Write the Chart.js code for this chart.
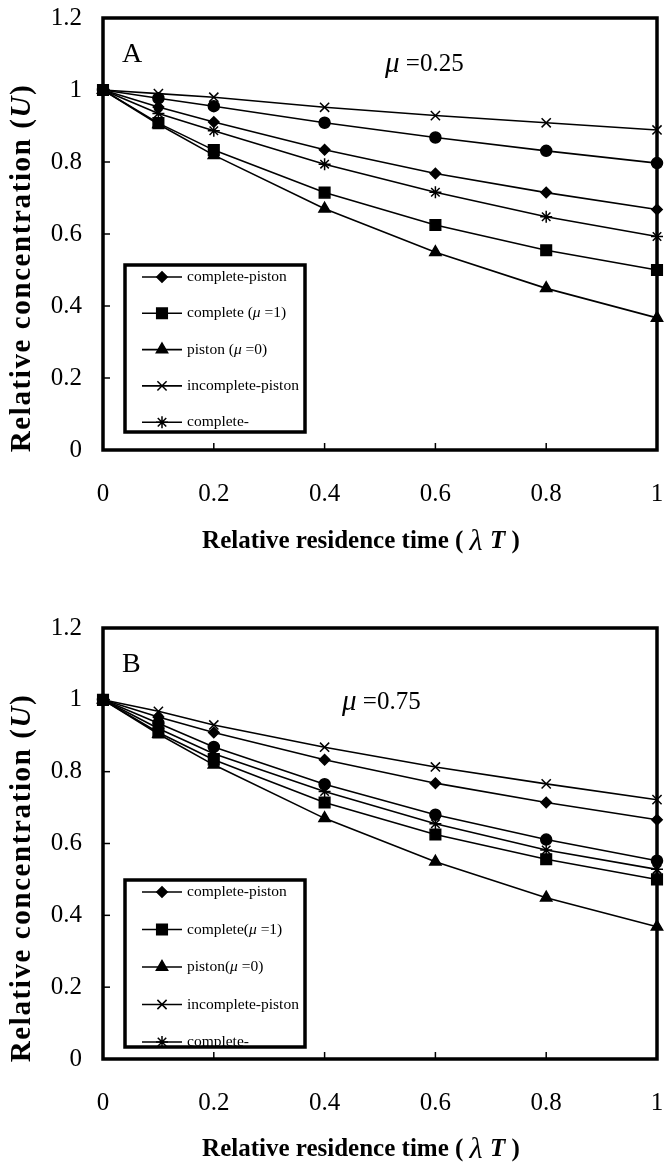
<!DOCTYPE html>
<html><head><meta charset="utf-8">
<script src="https://cdn.jsdelivr.net/npm/chart.js@4.4.0/dist/chart.umd.min.js"></script>
<style>
html,body{margin:0;padding:0;background:#fff;}
#wrap{position:relative;width:666px;height:1167px;overflow:hidden;}
canvas{position:absolute;left:0;}
</style></head><body>
<div id="wrap">
<canvas id="cA" width="666" height="610" style="top:0"></canvas>
<canvas id="cB" width="666" height="557" style="top:610px"></canvas>
</div>
<script>
// ---------- data ----------
const xValues = [0, 0.1, 0.2, 0.4, 0.6, 0.8, 1];
const xTicks = [0, 0.2, 0.4, 0.6, 0.8, 1];
const yTicks = [0, 0.2, 0.4, 0.6, 0.8, 1, 1.2];

const labelsA = ['complete-piston', 'complete (μ =1)', 'piston (μ =0)', 'incomplete-piston', 'complete-', 'incomplete-'];
const labelsB = ['complete-piston', 'complete(μ =1)', 'piston(μ =0)', 'incomplete-piston', 'complete-', 'incomplete-'];

// panel A (mu = 0.25)
const aCompletePiston   = [1, 0.953, 0.911, 0.834, 0.768, 0.715, 0.668];
const aComplete         = [1, 0.908, 0.833, 0.715, 0.625, 0.555, 0.500];
const aPiston           = [1, 0.905, 0.819, 0.670, 0.549, 0.449, 0.367];
const aIncompletePiston = [1, 0.990, 0.980, 0.952, 0.929, 0.909, 0.889];
const aCompleteInc      = [1, 0.935, 0.887, 0.794, 0.716, 0.648, 0.593];
const aIncomplete       = [1, 0.977, 0.955, 0.909, 0.868, 0.831, 0.797];

// panel B (mu = 0.75)
const bCompletePiston   = [1, 0.952, 0.909, 0.833, 0.768, 0.714, 0.666];
const bComplete         = [1, 0.909, 0.833, 0.714, 0.625, 0.556, 0.500];
const bPiston           = [1, 0.905, 0.819, 0.670, 0.549, 0.449, 0.368];
const bIncompletePiston = [1, 0.968, 0.930, 0.868, 0.813, 0.766, 0.722];
const bCompleteInc      = [1, 0.920, 0.850, 0.745, 0.655, 0.582, 0.528];
const bIncomplete       = [1, 0.935, 0.869, 0.765, 0.680, 0.611, 0.552];

// ---------- styles ----------
const SERIF = '"Liberation Serif", "Times New Roman", serif';
const pointStyles = ['rectRot', 'rect', 'triangle', 'crossRot', 'star', 'circle'];
const pointRadii  = [5.2, 7.5, 6.5, 6.5, 6, 5.5];

function drawRuns(ctx, runs, x, y, align) {
  let total = 0;
  runs.forEach(r => { ctx.font = r.f; total += ctx.measureText(r.t).width; });
  let cx = align === 'center' ? x - total / 2 : x;
  runs.forEach(r => { ctx.font = r.f; ctx.fillText(r.t, cx, y); cx += ctx.measureText(r.t).width; });
  return total;
}
function labelRuns(label, size) {
  const parts = label.split('μ');
  const runs = [];
  parts.forEach((p, i) => {
    if (i > 0) runs.push({ t: 'μ', f: 'italic ' + size + 'px ' + SERIF });
    if (p) runs.push({ t: p, f: size + 'px ' + SERIF });
  });
  return runs;
}

function makeChart(id, H, plotBottom, series, labels, cfg) {
  const datasets = series.map((s, i) => ({
    label: labels[i],
    data: xValues.map((x, j) => ({ x: x, y: s[j] })),
    borderColor: '#000', backgroundColor: '#000',
    borderWidth: 1.6,
    pointStyle: pointStyles[i], pointRadius: pointRadii[i], pointHoverRadius: pointRadii[i],
    pointBorderWidth: 1.5, pointBackgroundColor: '#000', pointBorderColor: '#000',
    tension: 0, clip: false
  }));

  const decorPlugin = {
    id: 'decor',
    afterDatasetsDraw(chart) {
      const ctx = chart.ctx;
      const L = cfg.legend;
      ctx.save();
      ctx.fillStyle = '#fff';
      ctx.fillRect(L.left, L.top, L.right - L.left, L.bottom - L.top);
      ctx.beginPath();
      ctx.rect(L.left, L.top, L.right - L.left, L.bottom - L.top);
      ctx.clip();
      ctx.fillStyle = '#000'; ctx.strokeStyle = '#000';
      ctx.textBaseline = 'middle';
      chart.data.datasets.forEach((ds, i) => {
        const yy = L.top + L.first + i * L.step;
        ctx.lineWidth = 1.6;
        ctx.beginPath(); ctx.moveTo(L.left + 17, yy); ctx.lineTo(L.left + 57, yy); ctx.stroke();
        ctx.lineWidth = 1.5;
        Chart.helpers.drawPoint(ctx, { pointStyle: ds.pointStyle, radius: ds.pointRadius, borderWidth: 1.5, rotation: 0 }, L.left + 37, yy);
        ctx.fill();
        drawRuns(ctx, labelRuns(ds.label, 15.5), L.left + 62, yy, 'left');
      });
      ctx.restore();
      ctx.save();
      ctx.lineWidth = 3.5; ctx.strokeStyle = '#000';
      ctx.strokeRect(L.left, L.top, L.right - L.left, L.bottom - L.top);
      ctx.restore();
    },
    afterDraw(chart) {
      const { ctx, chartArea: a, scales: { x, y } } = chart;
      ctx.save();
      ctx.strokeStyle = '#000'; ctx.lineWidth = 1.5;
      x.ticks.forEach(t => { const px = x.getPixelForValue(t.value); ctx.beginPath(); ctx.moveTo(px, a.bottom); ctx.lineTo(px, a.bottom - 7); ctx.stroke(); });
      y.ticks.forEach(t => { const py = y.getPixelForValue(t.value); ctx.beginPath(); ctx.moveTo(a.left, py); ctx.lineTo(a.left + 7, py); ctx.stroke(); });
      ctx.lineWidth = 3.5;
      ctx.strokeRect(a.left, a.top, a.right - a.left, a.bottom - a.top);
      // texts
      ctx.fillStyle = '#000'; ctx.textBaseline = 'middle';
      ctx.font = '28px ' + SERIF; ctx.textAlign = 'left';
      ctx.fillText(cfg.panel, a.left + 19, a.top + cfg.panelDy);
      drawRuns(ctx, [{ t: 'μ', f: 'italic 29px ' + SERIF }, { t: ' =' + cfg.mu, f: '25px ' + SERIF }], cfg.muX, a.top + cfg.muDy, 'left');
      // x title
      drawRuns(ctx, [
        { t: 'Relative residence time ( ', f: 'bold 25px ' + SERIF },
        { t: 'λ ', f: 'italic 30px ' + SERIF },
        { t: 'T', f: 'bold italic 25px ' + SERIF },
        { t: ' )', f: 'bold 25px ' + SERIF }
      ], 361, cfg.xTitleY, 'center');
      // y title
      ctx.translate(23, a.top + 250);
      ctx.rotate(-Math.PI / 2);
      ctx.letterSpacing = '1.6px';
      drawRuns(ctx, [
        { t: 'Relative concentration (', f: 'bold 29px ' + SERIF },
        { t: 'U', f: 'bold italic 29px ' + SERIF },
        { t: ')', f: 'bold 29px ' + SERIF }
      ], 0, 0, 'center');
      ctx.restore();
    }
  };

  return new Chart(document.getElementById(id), {
    type: 'line',
    data: { datasets: datasets },
    options: {
      responsive: false, animation: false,
      layout: { padding: { top: 18, right: 3, left: 0, bottom: 0 } },
      plugins: { legend: { display: false }, tooltip: { enabled: false } },
      scales: {
        x: {
          type: 'linear', min: 0, max: 1,
          afterBuildTicks: s => { s.ticks = xTicks.map(v => ({ value: v })); },
          afterFit: s => { s.height = H - plotBottom; s.paddingLeft = 0; s.paddingRight = 0; },
          grid: { display: false, drawTicks: false },
          border: { display: false },
          ticks: { color: '#000', font: { family: SERIF, size: 25 }, padding: 29, maxRotation: 0, autoSkip: false,
                   callback: v => String(+(+v).toFixed(1)) }
        },
        y: {
          type: 'linear', min: 0, max: 1.2,
          afterBuildTicks: s => { s.ticks = yTicks.map(v => ({ value: v })); },
          afterFit: s => { s.width = 103; s.paddingTop = 0; s.paddingBottom = 0; },
          grid: { display: false, drawTicks: false },
          border: { display: false },
          ticks: { color: '#000', font: { family: SERIF, size: 25 }, padding: 21, autoSkip: false,
                   callback: v => String(+(+v).toFixed(1)) }
        }
      }
    },
    plugins: [decorPlugin]
  });
}

makeChart('cA', 610, 450,
  [aCompletePiston, aComplete, aPiston, aIncompletePiston, aCompleteInc, aIncomplete], labelsA,
  { panel: 'A', mu: '0.25', muX: 385, muDy: 46, panelDy: 37, xTitleY: 542,
    legend: { left: 125, top: 265, right: 305, bottom: 432, first: 12, step: 36.3 } });

makeChart('cB', 557, 449,
  [bCompletePiston, bComplete, bPiston, bIncompletePiston, bCompleteInc, bIncomplete], labelsB,
  { panel: 'B', mu: '0.75', muX: 342, muDy: 74, panelDy: 37, xTitleY: 540,
    legend: { left: 125, top: 270, right: 305, bottom: 437, first: 12, step: 37.5 } });
</script>
</body></html>
